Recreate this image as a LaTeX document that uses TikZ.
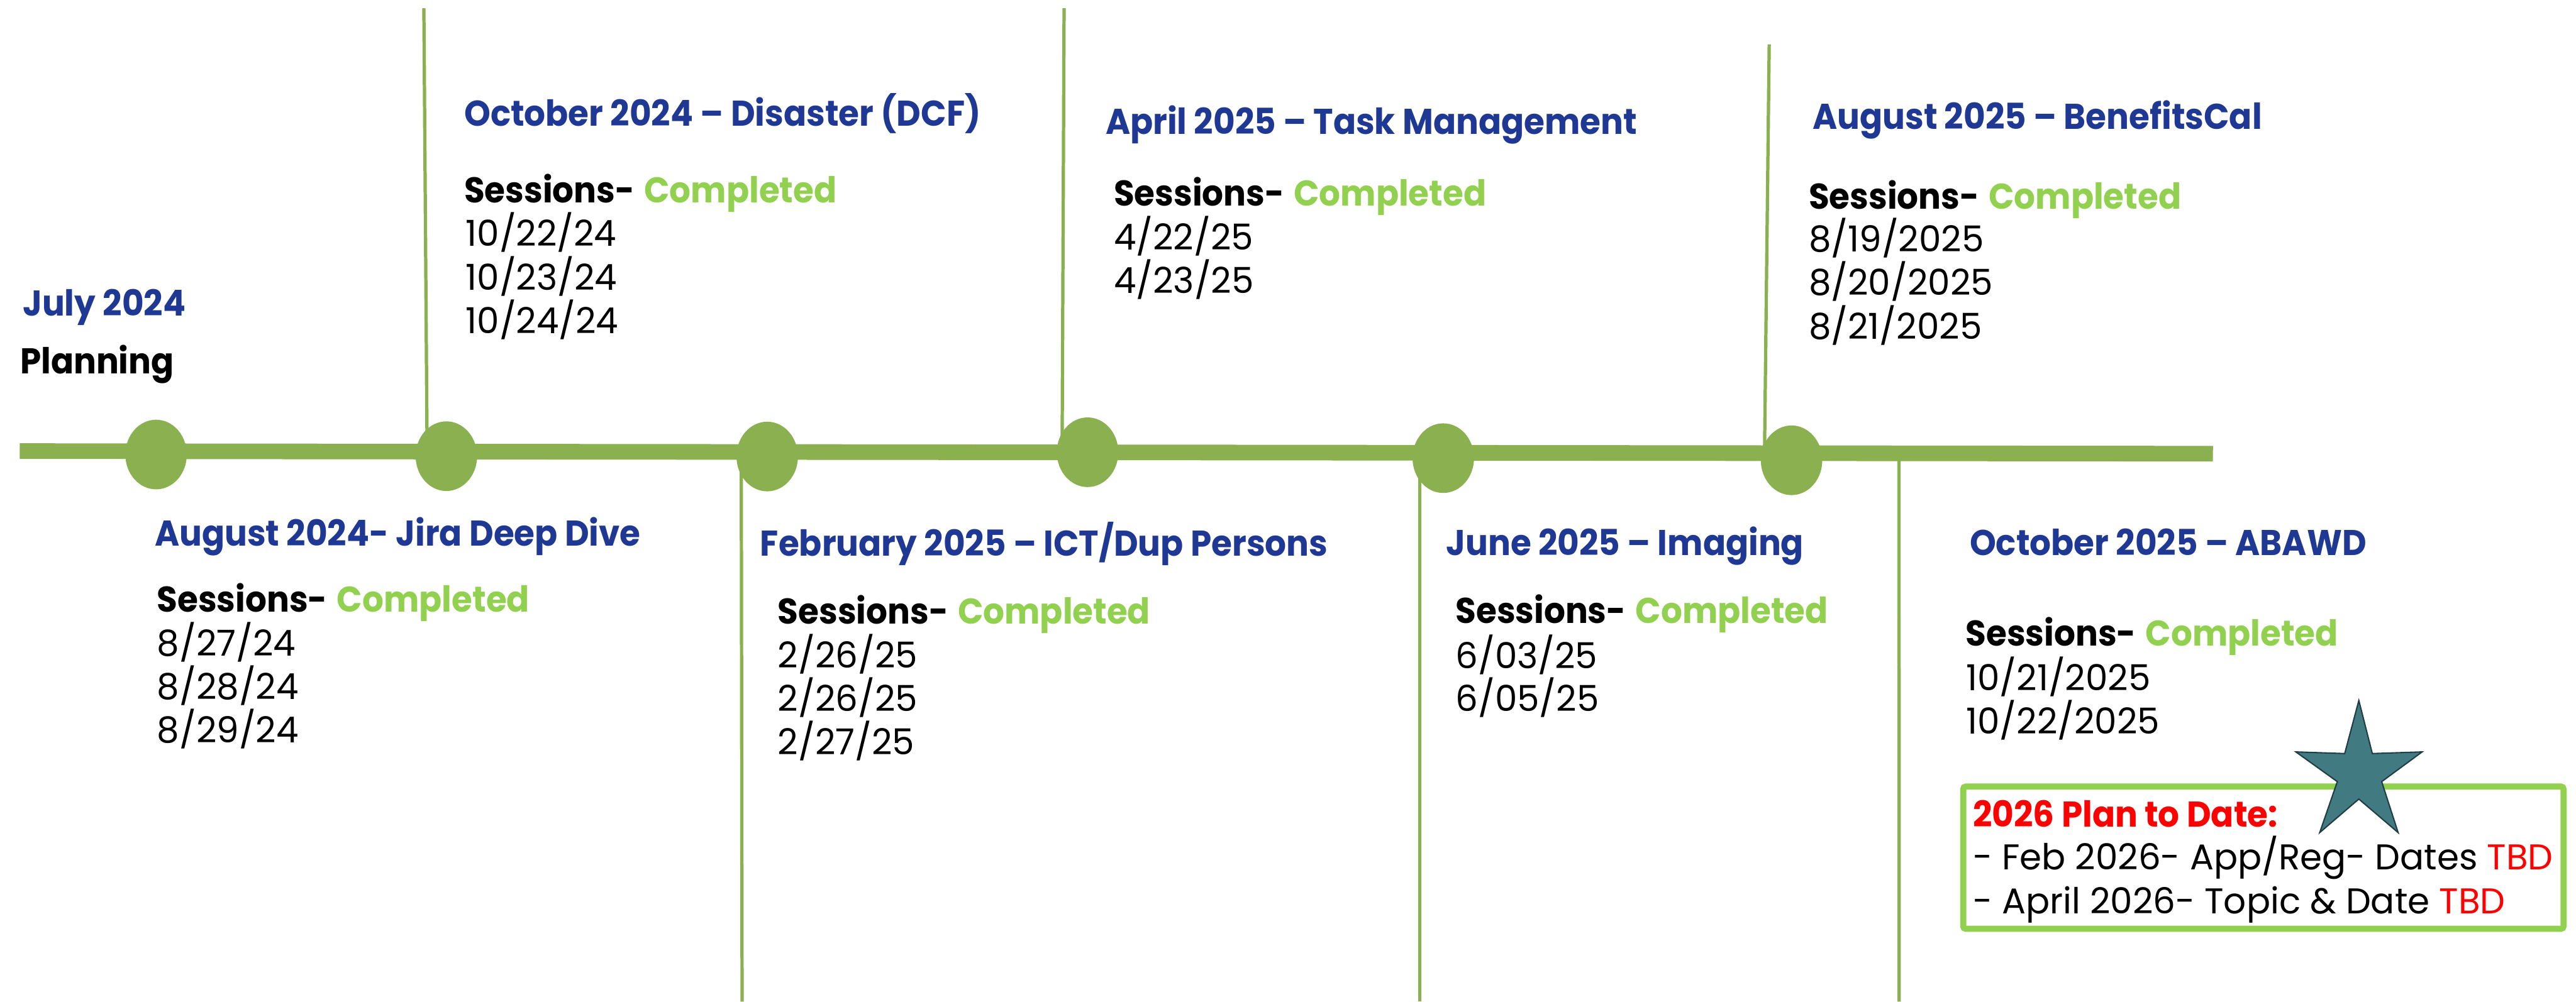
\documentclass[tikz,border=0pt]{standalone}
\usepackage{fontspec}
\setmainfont{Poppins}[FakeStretch=0.99,BoldFeatures={FakeStretch=0.935}]
\usetikzlibrary{shapes.geometric}
\definecolor{tlblue}{RGB}{31,56,148}
\definecolor{tlgreen}{RGB}{138,176,79}
\definecolor{donegreen}{RGB}{146,208,80}
\definecolor{tbdred}{RGB}{255,0,0}
\definecolor{starteal}{RGB}{66,122,130}
\definecolor{staredge}{RGB}{30,62,68}
\newcommand\tlsize{\fontsize{21.8}{26.5}\selectfont}
\newcommand\sessline{\textbf{Sessions-} \textcolor{donegreen}{\textbf{Completed}}}
\begin{document}
\begin{tikzpicture}[x=1pt,y=-1pt,
  txt/.style={anchor=base west,inner sep=0pt,outer sep=0pt,font=\tlsize},
  ttl/.style={txt,text=tlblue,font=\tlsize\bfseries},
  stem/.style={draw=tlgreen,line width=2pt},
  milestone/.style={ellipse,fill=tlgreen,minimum width=37.4pt,minimum height=42.4pt,inner sep=0pt}]
\useasboundingbox[fill=white] (0,0) rectangle (1568,610);

% stems joining the text blocks to the timeline
\coordinate (sA1) at (258,5);      \coordinate (sA2) at (260,278);
\coordinate (sB1) at (647.7,5);    \coordinate (sB2) at (646.5,276);
\coordinate (sC1) at (1076.9,27);  \coordinate (sC2) at (1074,280);
\coordinate (sD1) at (451.2,278);  \coordinate (sD2) at (451.7,610);
\coordinate (sE1) at (864.3,280);  \coordinate (sE2) at (864.3,610);
\coordinate (sF1) at (1155.9,278); \coordinate (sF2) at (1156,610);
\draw[stem] (sA1) -- (sA2);
\draw[stem] (sB1) -- (sB2);
\draw[stem] (sC1) -- (sC2);
\draw[stem] (sD1) -- (sD2);
\draw[stem] (sE1) -- (sE2);
\draw[stem] (sF1) -- (sF2);

% the timeline and its milestones
\coordinate (lineL) at (12,274.7);
\coordinate (lineR) at (1347,276.3);
\draw[tlgreen,line width=9.5pt] (lineL) -- (lineR);
\node[milestone] (m1) at (95,276.8) {};
\node[milestone] (m2) at (271.7,277.8) {};
\node[milestone] (m3) at (467,278) {};
\node[milestone] (m4) at (662,275.4) {};
\node[milestone] (m5) at (878.5,279) {};
\node[milestone] (m6) at (1090.5,280.3) {};

% July 2024
\node[ttl] (jul) at (13.9,192.2) {July 2024};
\node[txt,font=\tlsize\bfseries] (plan) at (12.3,227.5) {Planning};

% October 2024
\node[ttl] (oct24) at (282.6,76.6) {October 2024 – Disaster (DCF)};
\node[txt] (oct24s) at (282.6,123.5) {\sessline};
\node[txt] (oct24a) at (283.5,150) {10/22/24};
\node[txt] (oct24b) at (283.5,176.6) {10/23/24};
\node[txt] (oct24c) at (283.5,203) {10/24/24};

% April 2025
\node[ttl] (apr25) at (673,81.8) {April 2025 – Task Management};
\node[txt] (apr25s) at (678,125.5) {\sessline};
\node[txt] (apr25a) at (678,152.1) {4/22/25};
\node[txt] (apr25b) at (678,178.7) {4/23/25};

% August 2025
\node[ttl] (aug25) at (1103.3,78.8) {August 2025 – BenefitsCal};
\node[txt] (aug25s) at (1101,127.1) {\sessline};
\node[txt] (aug25a) at (1101,153.3) {8/19/2025};
\node[txt] (aug25b) at (1101,179.9) {8/20/2025};
\node[txt] (aug25c) at (1101,206.5) {8/21/2025};

% August 2024
\node[ttl] (aug24) at (94.2,332.4) {August 2024- Jira Deep Dive};
\node[txt] (aug24s) at (95.6,372.7) {\sessline};
\node[txt] (aug24a) at (95.6,399.5) {8/27/24};
\node[txt] (aug24b) at (95.6,425.9) {8/28/24};
\node[txt] (aug24c) at (95.6,452.2) {8/29/24};

% February 2025
\node[ttl] (feb25) at (462.8,338.6) {February 2025 – ICT/Dup Persons};
\node[txt] (feb25s) at (473.5,380.1) {\sessline};
\node[txt] (feb25a) at (473.5,406.8) {2/26/25};
\node[txt] (feb25b) at (473.5,433.2) {2/26/25};
\node[txt] (feb25c) at (473.5,459.6) {2/27/25};

% June 2025
\node[ttl] (jun25) at (880.3,338.3) {June 2025 – Imaging};
\node[txt] (jun25s) at (886,379.6) {\sessline};
\node[txt] (jun25a) at (886,407.1) {6/03/25};
\node[txt] (jun25b) at (886,433.2) {6/05/25};

% October 2025
\node[ttl] (oct25) at (1199,338.3) {October 2025 – ABAWD};
\node[txt] (oct25s) at (1196.5,393.5) {\sessline};
\node[txt] (oct25a) at (1196.8,420.5) {10/21/2025};
\node[txt] (oct25b) at (1196.8,447.0) {10/22/2025};

% 2026 plan box
\draw[donegreen,line width=3.7pt,rounded corners=1.5pt] (1195,479) rectangle (1560.4,565.6);
\node[txt,text=tbdred,font=\tlsize\bfseries] (plan26) at (1201,503.5) {2026 Plan to Date:};
\node[txt] (plan26a) at (1201,529.7) {- Feb 2026- App/Reg- Dates \textcolor{tbdred}{TBD}};
\node[txt] (plan26b) at (1201,556.5) {- April 2026- Topic \& Date \textcolor{tbdred}{TBD}};

% star
\fill[starteal,draw=staredge,line width=0.8pt,line join=miter]
  (1435.8,426.6) -- (1444.0,458.9) -- (1474.3,457.9) -- (1449.7,476)
  -- (1459.7,507) -- (1435.8,486.6) -- (1412,507) -- (1422.7,476)
  -- (1397.5,457.9) -- (1427.2,458.9) -- cycle;
\end{tikzpicture}
\end{document}
